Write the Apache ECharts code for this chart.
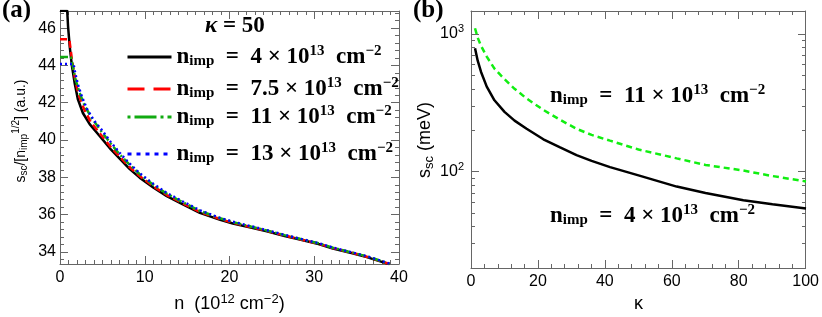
<!DOCTYPE html>
<html><head><meta charset="utf-8">
<script src="https://cdn.jsdelivr.net/npm/echarts@6/dist/echarts.min.js"></script>
<style>html,body{margin:0;padding:0;background:#fff;overflow:hidden}.c{position:absolute;left:0;top:0;width:822px;height:317px}</style>
</head><body>
<div id="axes" class="c"></div>
<div id="plot" class="c"></div>
<script>
// ---------- Panel (a): s_sc / sqrt(n_imp) vs n ----------
const nBlack = [0, 0.85, 0.95, 1.15, 1.4, 1.75, 2.1, 2.7, 3.5, 4.7, 6, 7.1, 8.2, 9.4, 11, 12.6, 14.5, 16.5, 18.9, 20.4, 22.5, 24.4, 26.5, 28.3, 30.5, 32.2, 34.5, 36.2, 38.9];
const sBlack = [46.94, 46.94, 46.1, 45.0, 44.0, 43.0, 42.2, 41.45, 40.85, 40.2, 39.5, 38.97, 38.45, 37.98, 37.45, 36.99, 36.55, 36.09, 35.72, 35.52, 35.3, 35.1, 34.85, 34.66, 34.42, 34.18, 33.93, 33.72, 33.33];
const nRed = [0, 1.1, 1.2, 1.4, 1.75, 2.15, 2.8, 3.6, 4.8, 6, 7.1, 8.2, 9.4, 11, 12.6, 14.5, 16.5, 18.9, 20.4, 22.5, 24.4, 26.5, 28.3, 30.5, 32.2, 34.5, 36.2, 38.9];
const sRed = [45.4, 45.4, 45.05, 44.35, 43.35, 42.5, 41.7, 40.98, 40.3, 39.62, 39.08, 38.55, 38.07, 37.52, 37.05, 36.6, 36.14, 35.76, 35.56, 35.33, 35.13, 34.88, 34.68, 34.44, 34.2, 33.95, 33.74, 33.35];
const nGreen = [0, 1.3, 1.45, 1.8, 2.3, 2.9, 3.7, 4.9, 6, 7.1, 8.2, 9.4, 11, 12.6, 14.5, 16.5, 18.9, 20.4, 22.5, 24.4, 26.5, 28.3, 30.5, 32.2, 34.5, 36.2, 38.9];
const sGreen = [44.45, 44.45, 44.1, 43.3, 42.55, 41.85, 41.2, 40.45, 39.8, 39.2, 38.68, 38.17, 37.6, 37.12, 36.66, 36.2, 35.8, 35.6, 35.36, 35.15, 34.9, 34.7, 34.46, 34.22, 33.96, 33.76, 33.36];
const nBlue = [0, 1.6, 1.75, 2.1, 2.6, 3.2, 4.0, 5.0, 6, 7.1, 8.2, 9.4, 11, 12.6, 14.5, 16.5, 18.9, 20.4, 22.5, 24.4, 26.5, 28.3, 30.5, 32.2, 34.5, 36.2, 38.9];
const sBlue = [44.08, 44.08, 43.7, 43.0, 42.3, 41.65, 41.05, 40.5, 39.88, 39.28, 38.74, 38.22, 37.65, 37.16, 36.7, 36.23, 35.82, 35.62, 35.38, 35.16, 34.91, 34.71, 34.47, 34.23, 33.97, 33.77, 33.37];
const legendCoefs = ['4', '7.5', '11', '13'];
const xRangeA = [0, 40];
const yRangeA = [33.35, 46.92];
const yTicksA = [34, 36, 38, 40, 42, 44, 46];
const yMinorA = [33.6, 34.4, 34.8, 35.2, 35.6, 36.4, 36.8, 37.2, 37.6, 38.4, 38.8, 39.2, 39.6, 40.4, 40.8, 41.2, 41.6, 42.4, 42.8, 43.2, 43.6, 44.4, 44.8, 45.2, 45.6, 46.4, 46.8];

// ---------- Panel (b): s_sc vs kappa ----------
const kappa = [1.2, 2, 3, 4.7, 7, 10, 13, 16.6, 21.6, 26.6, 31.5, 36, 41.5, 50, 61.4, 70, 81.3, 90, 100];
const ssc4  = [787, 640, 530, 415, 330, 272, 235, 205, 172, 150, 132, 120, 108, 94, 78, 70, 62, 58, 54];
const ssc11 = [1100, 940, 820, 685, 560, 470, 400, 340, 281, 238, 205, 185, 168, 145, 125, 112, 102, 93, 85];
const xRangeB = [0, 100];
const yRangeB = [20, 1468];
const yTicksB = [100, 1000];
const yMinorB = [30, 40, 50, 60, 70, 80, 90, 200, 300, 400, 500, 600, 700, 800, 900];

const SERIF = '"Liberation Serif", "DejaVu Serif", serif';
const SANS = '"Liberation Sans", Arial, sans-serif';
const AX = '#666';
const L = Math.log10;
function zip(a, b) { return a.map((v, i) => [v, b[i]]); }

const gridA = {left: 60, top: 11, width: 339, height: 253};
const gridB = {left: 471, top: 11, width: 335, height: 257};

// ================= Layer 1: frames, ticks and tick labels =================
function xAxisPair(gi, range, interval, minorSplit) {
  const mk = (pos) => ({
    type: 'value', gridIndex: gi, min: range[0], max: range[1], interval: interval, position: pos,
    axisLine: {show: true, onZero: false, lineStyle: {color: AX, width: 1}},
    axisTick: {show: true, inside: true, length: 8, lineStyle: {color: AX, width: 1}},
    minorTick: {show: true, splitNumber: minorSplit, length: 4, lineStyle: {color: AX, width: 1}},
    splitLine: {show: false},
    axisLabel: pos === 'bottom' ? {show: true, fontFamily: SANS, fontSize: 16, color: '#000', margin: 6} : {show: false}
  });
  return [mk('bottom'), mk('top')];
}
function tickAxes(gi, min, max, majors, minors, fmt) {
  const out = [];
  ['left', 'right'].forEach(pos => {
    out.push({type: 'value', gridIndex: gi, min: min, max: max, position: pos,
      splitLine: {show: false}, minorTick: {show: false},
      axisLine: {show: !!fmt, onZero: false, lineStyle: {color: AX, width: 1}},
      axisTick: {show: true, inside: true, length: 8, lineStyle: {color: AX, width: 1}, customValues: majors},
      axisLabel: (pos === 'left' && fmt) ? {show: true, customValues: majors, formatter: fmt,
        fontFamily: SANS, fontSize: 16, color: '#000', margin: 4} : {show: false}});
    out.push({type: 'value', gridIndex: gi, min: min, max: max, position: pos,
      splitLine: {show: false}, minorTick: {show: false},
      axisLine: {show: false, onZero: false},
      axisTick: {show: true, inside: true, length: 4, lineStyle: {color: AX, width: 1}, customValues: minors},
      axisLabel: {show: false}});
  });
  return out;
}
const axesChart = echarts.init(document.getElementById('axes'));
axesChart.setOption({
  animation: false, backgroundColor: '#fff',
  grid: [gridA, gridB, Object.assign({}, gridB)],
  xAxis: [].concat(xAxisPair(0, xRangeA, 10, 10), xAxisPair(1, xRangeB, 20, 5),
    [{type: 'value', gridIndex: 2, min: 0, max: 1, show: false}]),
  yAxis: [].concat(
    tickAxes(0, yRangeA[0], yRangeA[1], yTicksA, yMinorA, v => String(v)),
    [{type: 'log', logBase: 10, gridIndex: 1, min: yRangeB[0], max: yRangeB[1], position: 'left',
      splitLine: {show: false}, minorTick: {show: false}, axisTick: {show: false},
      axisLine: {show: true, onZero: false, lineStyle: {color: AX, width: 1}},
      axisLabel: {show: true, margin: 7,
        formatter: v => { const e = L(v); return Math.abs(e - Math.round(e)) < 1e-6 ? '{b|10}{s|' + Math.round(e) + '}' : ''; },
        rich: {b: {fontFamily: SANS, fontSize: 16, color: '#000'},
               s: {fontFamily: SANS, fontSize: 11, color: '#000', padding: [0, 0, 10, 0]}}}},
     {type: 'log', logBase: 10, gridIndex: 1, min: yRangeB[0], max: yRangeB[1], position: 'right',
      splitLine: {show: false}, minorTick: {show: false}, axisTick: {show: false}, axisLabel: {show: false},
      axisLine: {show: true, onZero: false, lineStyle: {color: AX, width: 1}}}],
    tickAxes(2, L(yRangeB[0]), L(yRangeB[1]), yTicksB.map(L), yMinorB.map(L), null)),
  series: [
    {type: 'line', symbol: 'none', silent: true, data: zip(nBlack, sBlack), lineStyle: {opacity: 0}},
    {type: 'line', symbol: 'none', silent: true, xAxisIndex: 2, yAxisIndex: 4, data: zip(kappa, ssc4), lineStyle: {opacity: 0}}
  ]
});

// ================= Layer 2: curves, legend and texts =================
const mathRich = {
  t: {fontFamily: SERIF, fontWeight: 'bold', fontSize: 23, color: '#000'},
  sub: {fontFamily: SERIF, fontWeight: 'bold', fontSize: 15, color: '#000', padding: [9, 0, 0, 0]},
  sup: {fontFamily: SERIF, fontWeight: 'bold', fontSize: 15, color: '#000', padding: [0, 0, 11, 0]},
  k: {fontFamily: SERIF, fontWeight: 'bold', fontStyle: 'italic', fontSize: 23, color: '#000'}
};
function nimp(coef) {
  return '{t|n}{sub|imp}{t|  =  ' + coef + ' × 10}{sup|13}{t|  cm}{sup|−2}';
}
const seriesA = [
  {name: 'a4', data: zip(nBlack, sBlack), color: '#000', dash: 'solid', ldash: 'solid'},
  {name: 'a7.5', data: zip(nRed, sRed), color: '#ff0000', dash: [7, 4], ldash: [17, 9]},
  {name: 'a11', data: zip(nGreen, sGreen), color: '#11aa11', dash: [8, 3, 2, 3], ldash: [3, 4, 22, 4]},
  {name: 'a13', data: zip(nBlue, sBlue), color: '#0000ff', dash: [2, 3], ldash: [4, 5]}
];
const legendTops = [44, 76, 104, 141];
const series = seriesA.map(s => ({
  name: s.name, type: 'line', xAxisIndex: 0, yAxisIndex: 0, data: s.data,
  symbol: 'none', smooth: false, clip: true, color: s.color,
  lineStyle: {color: s.color, width: 2.5, type: s.dash}
})).concat([
  {name: 'b4', type: 'line', xAxisIndex: 1, yAxisIndex: 1, data: zip(kappa, ssc4),
   symbol: 'none', smooth: false, clip: true, color: '#000', lineStyle: {color: '#000', width: 2.5}},
  {name: 'b11', type: 'line', xAxisIndex: 1, yAxisIndex: 1, data: zip(kappa, ssc11),
   symbol: 'none', smooth: false, clip: true, color: '#11ee11',
   lineStyle: {color: '#11ee11', width: 2.5, type: [6, 4]}}
]);
const legends = seriesA.map((s, i) => ({
  data: [s.name], left: 126, top: legendTops[i], orient: 'vertical', padding: 0,
  itemWidth: 44, itemHeight: 12, itemGap: 0, selectedMode: false,
  itemStyle: {opacity: 0}, lineStyle: {width: 3, type: s.ldash},
  formatter: () => nimp(legendCoefs[i]),
  textStyle: {rich: mathRich}
}));
const titles = [
  {text: '(a)', left: 2, top: -2, padding: 0, textStyle: {fontFamily: SERIF, fontWeight: 'bold', fontSize: 25, color: '#000'}},
  {text: '(b)', left: 413, top: -2, padding: 0, textStyle: {fontFamily: SERIF, fontWeight: 'bold', fontSize: 25, color: '#000'}},
  {text: '{k|κ}{t| = 50}', left: 205, top: 15, padding: 0, textStyle: {rich: mathRich}},
  {text: nimp('11'), left: 550, top: 83, padding: 0, textStyle: {rich: mathRich}},
  {text: nimp('4'), left: 550, top: 203, padding: 0, textStyle: {rich: mathRich}}
];
const yNameRichA = {
  t: {fontFamily: SANS, fontSize: 14, color: '#000'},
  sub: {fontFamily: SANS, fontSize: 10, color: '#000', padding: [6, 0, 0, 0]},
  sup: {fontFamily: SANS, fontSize: 10, color: '#000', padding: [0, 0, 9, 0]}
};
const yNameRichB = {
  t: {fontFamily: SANS, fontSize: 18, color: '#000'},
  sub: {fontFamily: SANS, fontSize: 13, color: '#000', padding: [8, 0, 0, 0]}
};
const xNameRich = {
  t: {fontFamily: SANS, fontSize: 18, color: '#000'},
  sup: {fontFamily: SANS, fontSize: 13, color: '#000', padding: [0, 0, 10, 0]}
};
const graphics = [
  {type: 'text', x: 21, y: 131, rotation: Math.PI / 2,
   style: {text: '{t|s}{sub|sc}{t|/[n}{sub|imp}{sup|1/2}{t|] (a.u.)}', rich: yNameRichA,
           align: 'center', verticalAlign: 'middle'}},
  {type: 'text', x: 425, y: 140, rotation: Math.PI / 2,
   style: {text: '{t|s}{sub|sc}{t| (meV)}', rich: yNameRichB, align: 'center', verticalAlign: 'middle'}},
  {type: 'text', x: 229.5, y: 304,
   style: {text: '{t|n  (10}{sup|12}{t| cm}{sup|−2}{t|)}', rich: xNameRich, align: 'center', verticalAlign: 'middle'}},
  {type: 'text', x: 638.5, y: 304,
   style: {text: '{t|κ}', rich: xNameRich, align: 'center', verticalAlign: 'middle'}}
];
const plotChart = echarts.init(document.getElementById('plot'));
plotChart.setOption({
  animation: false, backgroundColor: 'transparent',
  title: titles,
  legend: legends,
  grid: [gridA, gridB],
  xAxis: [{type: 'value', gridIndex: 0, min: xRangeA[0], max: xRangeA[1], show: false},
          {type: 'value', gridIndex: 1, min: xRangeB[0], max: xRangeB[1], show: false}],
  yAxis: [{type: 'value', gridIndex: 0, min: yRangeA[0], max: yRangeA[1], show: false},
          {type: 'log', logBase: 10, gridIndex: 1, min: yRangeB[0], max: yRangeB[1], show: false}],
  graphic: graphics,
  series: series
});
</script>
</body></html>
